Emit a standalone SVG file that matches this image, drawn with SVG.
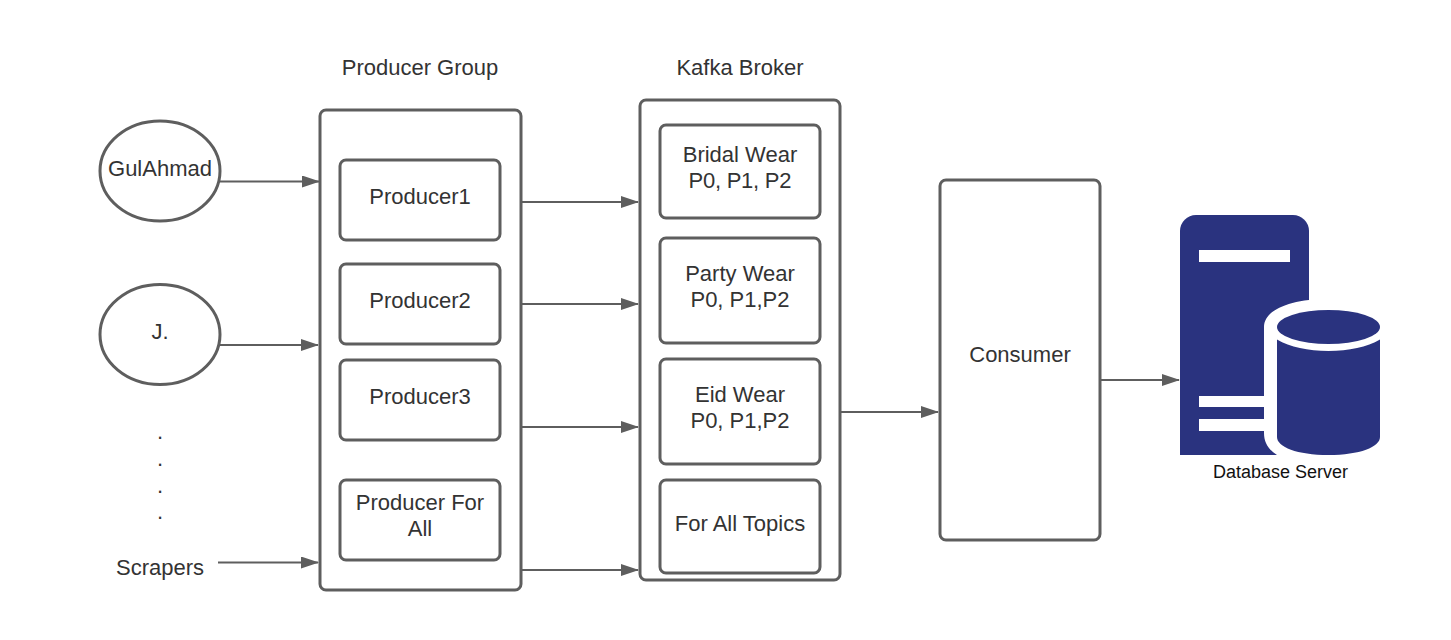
<svg xmlns="http://www.w3.org/2000/svg" width="1451" height="640" viewBox="0 0 1451 640">
<defs>
<marker id="arrow" markerUnits="userSpaceOnUse" markerWidth="18" markerHeight="12" refX="17" refY="6" orient="auto"><path d="M0 0L18 6L0 12Z" fill="#5e5e5e"/></marker>
</defs>
<style>
text{font-family:"Liberation Sans",Arial,sans-serif;font-size:22px;fill:#333;text-anchor:middle}
.b{fill:#fff;stroke:#5e5e5e;stroke-width:3}
.c{fill:none;stroke:#5e5e5e;stroke-width:2;marker-end:url(#arrow)}
.s{fill:#2a337f}
.w{fill:#fff}
</style>
<rect width="1451" height="640" fill="#fff"/>
<g id="connectors">
<path class="c" d="M220 181.500H319"/>
<path class="c" d="M220 345H318"/>
<path class="c" d="M218 562.500H318"/>
<path class="c" d="M522 202H638"/>
<path class="c" d="M522 304H638"/>
<path class="c" d="M522 427H638"/>
<path class="c" d="M522 570H638"/>
<path class="c" d="M841 412H938"/>
<path class="c" d="M1101 380H1179"/>
</g>
<g id="label-producer-group"><text x="420" y="74.500">Producer Group</text></g>
<g id="label-kafka-broker"><text x="740" y="74.500">Kafka Broker</text></g>
<g id="gulahmad"><ellipse class="b" cx="160" cy="171" rx="60" ry="50"/><text x="160" y="175.500">GulAhmad</text></g>
<g id="j"><ellipse class="b" cx="160" cy="334.500" rx="60" ry="50"/><text x="160" y="339">J.</text></g>
<g id="dots"><text x="160" y="439">.</text><text x="160" y="466">.</text><text x="160" y="492.500">.</text><text x="160" y="519">.</text></g>
<g id="scrapers"><text x="160" y="574.500">Scrapers</text></g>
<g id="producer-group"><rect class="b" x="320" y="110" width="201" height="480" rx="6"/></g>
<g id="producer1"><rect class="b" x="340" y="160" width="160" height="80" rx="6"/><text x="420" y="203.500">Producer1</text></g>
<g id="producer2"><rect class="b" x="340" y="264" width="160" height="80" rx="6"/><text x="420" y="307.500">Producer2</text></g>
<g id="producer3"><rect class="b" x="340" y="360" width="160" height="80" rx="6"/><text x="420" y="403.500">Producer3</text></g>
<g id="producer-all"><rect class="b" x="340" y="480" width="160" height="80" rx="6"/><text x="420" y="510">Producer For</text><text x="420" y="536">All</text></g>
<g id="kafka-broker"><rect class="b" x="640" y="100" width="200" height="480" rx="6"/></g>
<g id="bridal"><rect class="b" x="660" y="125" width="160" height="93" rx="6"/><text x="740" y="161.500">Bridal Wear</text><text x="740" y="187.500" textLength="103">P0, P1, P2</text></g>
<g id="party"><rect class="b" x="660" y="238" width="160" height="105" rx="6"/><text x="740" y="281">Party Wear</text><text x="740" y="307">P0, P1,P2</text></g>
<g id="eid"><rect class="b" x="660" y="359" width="160" height="105" rx="6"/><text x="740" y="401.500">Eid Wear</text><text x="740" y="428">P0, P1,P2</text></g>
<g id="all-topics"><rect class="b" x="660" y="480" width="160" height="93" rx="6"/><text x="740" y="531">For All Topics</text></g>
<g id="consumer"><rect class="b" x="940" y="180" width="160" height="360" rx="6"/><text x="1020" y="362">Consumer</text></g>
<g id="database-server">
<path class="s" d="M1180 455V231a16 16 0 0 1 16-16H1293a16 16 0 0 1 16 16V455Z"/>
<rect class="w" x="1199" y="250" width="91" height="12"/>
<rect class="w" x="1199" y="396" width="91" height="11"/>
<rect class="w" x="1199" y="419" width="91" height="12"/>
<path class="w" d="M1264 327C1264 310 1290 299 1328 299C1366 299 1392 310 1392 327V470H1277V455C1269 450 1264 443 1264 433Z"/>
<path class="s" d="M1277 339.500C1290 347 1308 351 1328.500 351C1349 351 1367 347 1380 339.500V437C1380 447 1360 455 1328.500 455C1297 455 1277 447 1277 437Z"/>
<ellipse class="s" cx="1328.500" cy="327" rx="51.500" ry="17"/>
<text x="1280.500" y="478" style="font-size:18px;fill:#111">Database Server</text>
</g>
</svg>
